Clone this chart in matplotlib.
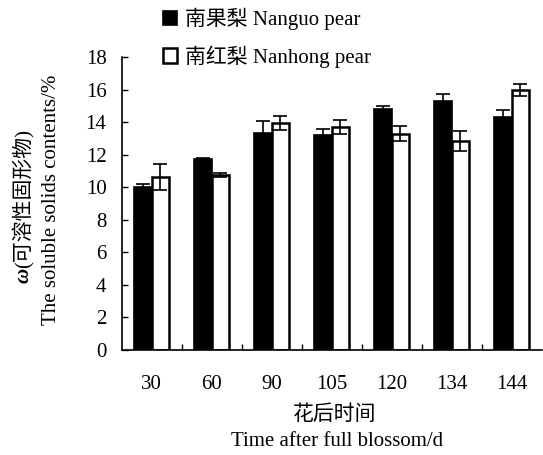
import matplotlib
matplotlib.use("Agg")
import matplotlib.pyplot as plt
import numpy as np

days = ["30", "60", "90", "105", "120", "134", "144"]
nanguo = [10.0, 11.75, 13.35, 13.2, 14.8, 15.3, 14.3]
nanguo_err = [0.2, 0.07, 0.7, 0.35, 0.2, 0.45, 0.45]
nanhong = [10.65, 10.75, 13.95, 13.7, 13.3, 12.85, 16.0]
nanhong_err = [0.8, 0.12, 0.45, 0.45, 0.47, 0.6, 0.37]
yticks = list(range(0, 19, 2))

FAM = ["Liberation Serif", "Noto Sans CJK SC"]
plt.rcParams["font.family"] = FAM
FS = 15

W, H = 543, 455
fig = plt.figure(figsize=(W / 100, H / 100), dpi=100)
ax = fig.add_axes([121.7 / W, 1 - 350 / H, 420 / W, 293 / H])

x = np.arange(len(days))
w = 0.29
ekw = dict(ecolor="black", elinewidth=1.2, capthick=1.2)
b1 = ax.bar(x - w, nanguo, width=w, align="edge", color="black", edgecolor="black",
            linewidth=1.2, yerr=nanguo_err, capsize=5, error_kw=ekw,
            label="南果梨 Nanguo pear", zorder=2)
b2 = ax.bar(x, nanhong, width=w, align="edge", color="white", edgecolor="black",
            linewidth=1.8, yerr=nanhong_err, capsize=5, error_kw=ekw,
            label="南红梨 Nanhong pear", zorder=2)

ax.set_xlim(-0.5, len(days) - 0.5)
ax.set_ylim(0, 18)
ax.set_yticks(yticks)
ax.set_yticklabels([str(t) for t in yticks], fontsize=FS)
ax.tick_params(axis="y", direction="in", length=4, width=1, pad=11)

ax.set_xticks(np.arange(0.5, len(days) - 0.5, 1.0))
ax.set_xticklabels([])
ax.tick_params(axis="x", which="major", direction="in", length=4, width=1)
ax.set_xticks(x, minor=True)
ax.set_xticklabels(days, minor=True, fontsize=FS)
ax.tick_params(axis="x", which="minor", length=0, pad=18)

for s in ("top", "right"):
    ax.spines[s].set_visible(False)
for s in ("left", "bottom"):
    ax.spines[s].set_linewidth(1.2)

fig.legend(handles=[b1, b2], loc="upper left", bbox_to_anchor=(163 / W, 1 - 8 / H),
           frameon=False, fontsize=FS, handlelength=0.67, handleheight=0.67,
           handletextpad=0.38, labelspacing=0.72, borderpad=0, borderaxespad=0)

fig.text(24 / W, 1 - 268 / H, "ω", rotation=90, ha="center", va="top",
         fontsize=FS, style="italic", fontweight="bold", family="Liberation Serif")
fig.text(24 / W, 1 - 268 / H, "(可溶性固形物)", rotation=90, ha="center", va="bottom",
         fontsize=FS)
fig.text(52 / W, 1 - 200 / H, "The soluble solids contents/%", rotation=90,
         ha="center", va="center", fontsize=FS)
fig.text(335 / W, 1 - 415 / H, "花后时间", ha="center", va="center", fontsize=FS)
fig.text(337 / W, 1 - 442 / H, "Time after full blossom/d", ha="center",
         va="center", fontsize=FS)

fig.savefig("out.png", dpi=100)
